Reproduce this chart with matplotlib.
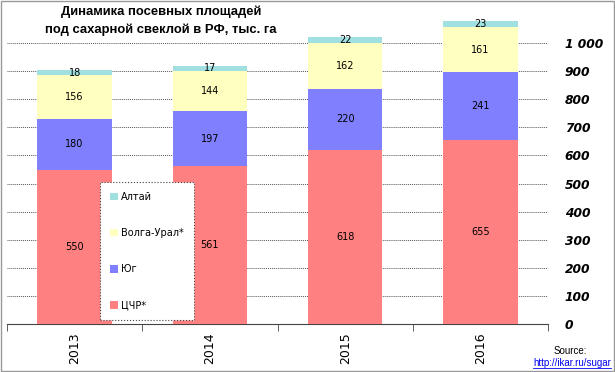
import matplotlib.pyplot as plt
import numpy as np
from matplotlib.patches import Rectangle

# data, thousand ha
years = ["2013", "2014", "2015", "2016"]
tschr = [550, 561, 618, 655]
yug = [180, 197, 220, 241]
volga_ural = [156, 144, 162, 161]
altai = [18, 17, 22, 23]

series = [
    ("ЦЧР*", tschr, "#FF8080"),
    ("Юг", yug, "#8080FF"),
    ("Волга-Урал*", volga_ural, "#FFFFC0"),
    ("Алтай", altai, "#A0E0E0"),
]
yticks = list(range(0, 1001, 100))
ytick_labels = ["0", "100", "200", "300", "400", "500", "600", "700", "800", "900", "1 000"]

fig = plt.figure(figsize=(6.15, 3.72), dpi=100)
ax = fig.add_axes([7 / 615, 48 / 372, 541 / 615, 309 / 372])
ax.set_axisbelow(True)

x = np.arange(len(years))
bottom = np.zeros(len(years))
handles = []
for name, vals, color in series:
    vals = np.array(vals, dtype=float)
    bars = ax.bar(x, vals, width=0.55, bottom=bottom, color=color, zorder=3, label=name)
    handles.append(bars)
    for xi, b, v in zip(x, bottom, vals):
        ax.text(xi, b + v / 2, str(int(v)), ha="center", va="center", fontsize=7, zorder=4)
    bottom += vals

ax.set_xlim(-0.5, len(years) - 0.5)
ax.set_ylim(0, 1100)

# dotted gridlines, hidden behind the bars
for yv in yticks[1:]:
    ax.axhline(yv, color="#555555", lw=0.7, ls=(0, (1, 1)), zorder=0.5)

ax.yaxis.tick_right()
ax.set_yticks(yticks)
ax.set_yticklabels(ytick_labels, fontsize=8.8, fontweight="bold", fontstyle="italic", ha="left")
ax.tick_params(axis="y", length=0, pad=12)

ax.set_xticks(x)
ax.set_xticklabels(years, rotation=90, fontsize=9)
ax.tick_params(axis="x", length=0, pad=6)
ax.set_xticks(np.arange(-0.5, len(years), 1.0), minor=True)
ax.tick_params(axis="x", which="minor", length=5, color="#444444")

for s in ["top", "right", "left"]:
    ax.spines[s].set_visible(False)
ax.spines["bottom"].set_color("#444444")

leg = fig.legend(handles[::-1], [s[0] for s in series][::-1], loc="upper left",
                 bbox_to_anchor=(100 / 615, 1 - 182 / 372), fontsize=7,
                 handlelength=0.8, handleheight=0.8, handletextpad=0.4,
                 labelspacing=2.7, borderpad=1.0, borderaxespad=0,
                 frameon=True, fancybox=False, framealpha=1)
leg.get_frame().set_edgecolor("#444444")
leg.get_frame().set_linestyle(":")
leg.get_frame().set_linewidth(0.8)

fig.text(161 / 615, 1 - 5 / 372, "Динамика посевных площадей\nпод сахарной свеклой в РФ, тыс. га",
         ha="center", va="top", fontsize=9.4, fontweight="bold", family="Liberation Sans",
         linespacing=1.65)

fig.text(570 / 615, 1 - 351 / 372, "Source:", ha="center", va="center", fontsize=7,
         family="Liberation Sans")
fig.text(611 / 615, 1 - 363 / 372, "http://ikar.ru/sugar", ha="right", va="center",
         fontsize=7, color="#0000EE", family="Liberation Sans")
fig.add_artist(plt.Line2D([533 / 615, 611 / 615], [1 - 368 / 372, 1 - 368 / 372],
                          color="#0000EE", lw=0.6))

fig.patches.append(Rectangle((0.001, 0.002), 0.997, 0.995, transform=fig.transFigure,
                             fill=False, edgecolor="#999999", lw=1))

fig.savefig("out.png", dpi=100)
